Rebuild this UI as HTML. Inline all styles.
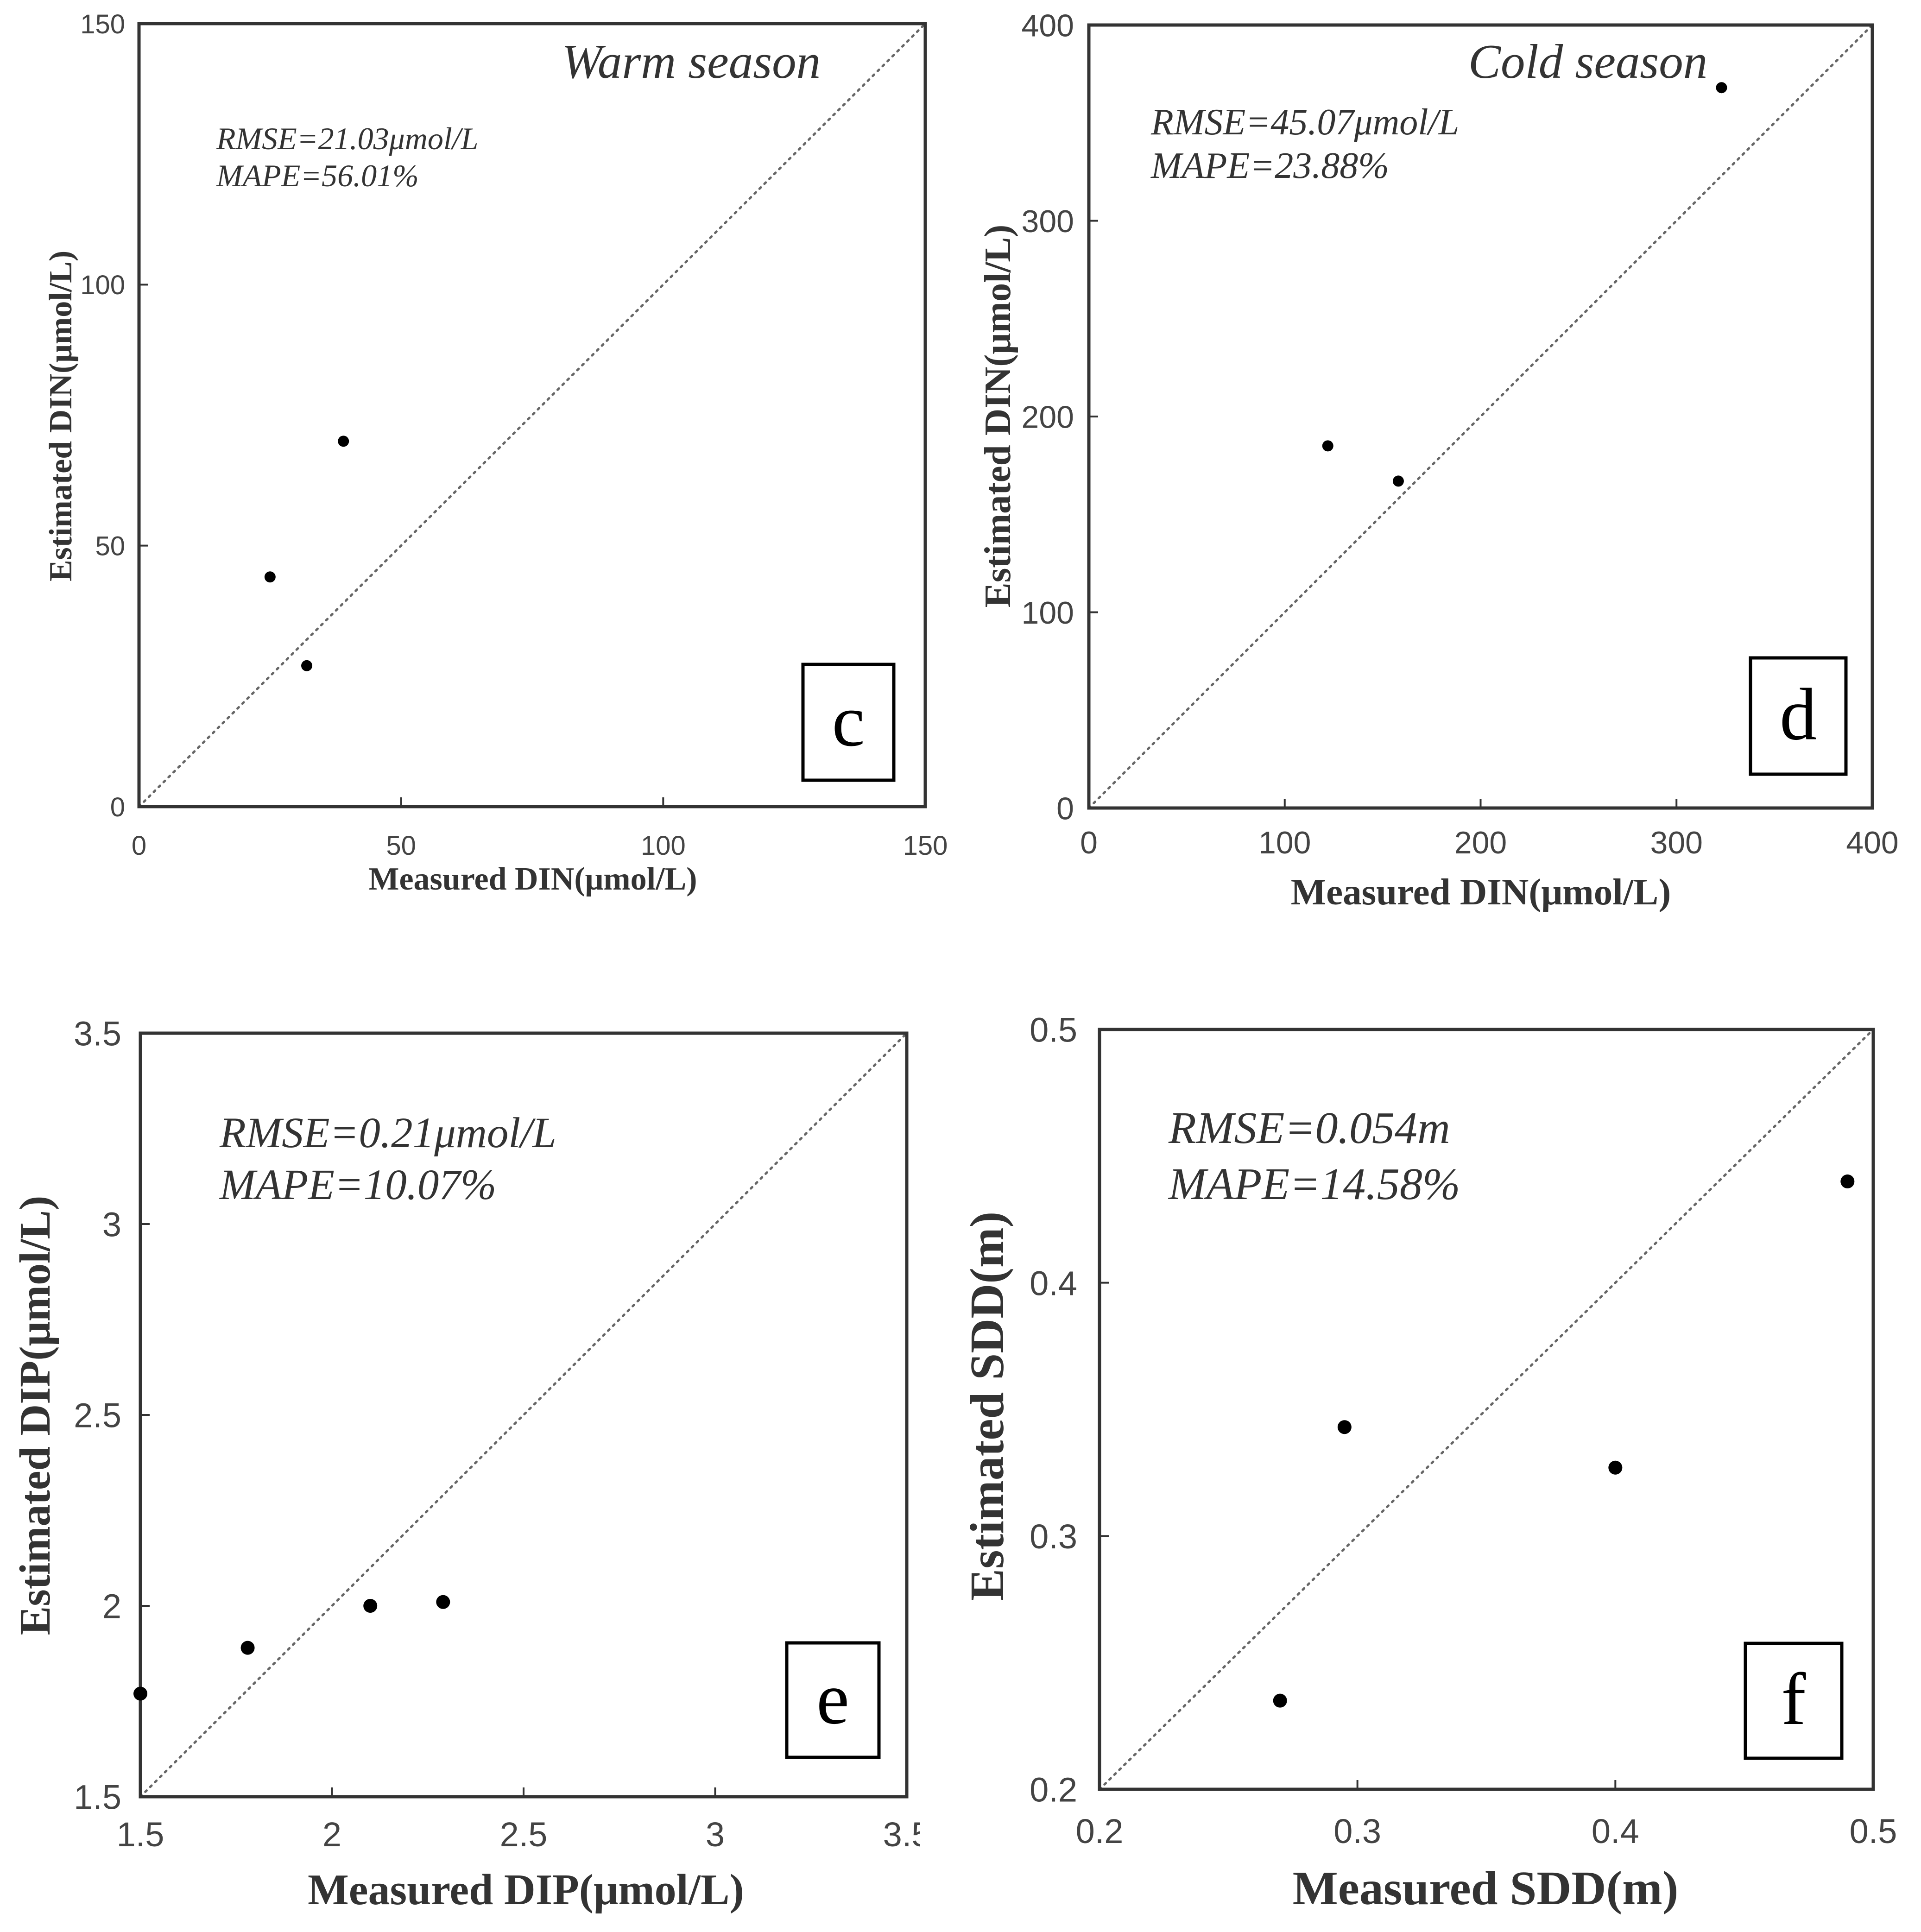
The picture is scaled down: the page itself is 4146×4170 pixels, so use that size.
<!DOCTYPE html>
<html><head><meta charset="utf-8"><style>
html,body{margin:0;padding:0;background:#fff;}
svg{display:block;}
.tick{font-family:"Liberation Sans",sans-serif;fill:#444;}
.ttl{font-family:"Liberation Serif",serif;font-weight:bold;fill:#333;}
.it{font-family:"Liberation Serif",serif;font-style:italic;fill:#333;}
.lab{font-family:"Liberation Serif",serif;fill:#000;}
</style></head><body>
<svg id="fig" xmlns="http://www.w3.org/2000/svg" width="4146" height="4170" viewBox="0 0 4146 4170">
<defs><clipPath id="clipE"><rect x="0" y="2085" width="1985" height="2085"/></clipPath></defs>
</svg>
<script>
// Panel c data
const cX = [25, 32, 39];
const cY = [44, 27, 70];
const cTicks = [0, 50, 100, 150];
const cTickLabels = ["0", "50", "100", "150"];
// Panel d data
const dX = [122, 158, 323];
const dY = [185, 167, 368];
const dTicks = [0, 100, 200, 300, 400];
const dTickLabels = ["0", "100", "200", "300", "400"];
// Panel e data
const eX = [1.5, 1.78, 2.1, 2.29];
const eY = [1.77, 1.89, 2.0, 2.01];
const eTicks = [1.5, 2, 2.5, 3, 3.5];
const eTickLabels = ["1.5", "2", "2.5", "3", "3.5"];
// Panel f data
const fX = [0.27, 0.295, 0.4, 0.49];
const fY = [0.235, 0.343, 0.327, 0.44];
const fTicks = [0.2, 0.3, 0.4, 0.5];
const fTickLabels = ["0.2", "0.3", "0.4", "0.5"];

const NS = "http://www.w3.org/2000/svg";
const svg = document.getElementById('fig');
function mk(tag, attrs, parent, text){
  const e = document.createElementNS(NS, tag);
  for (const k in attrs) e.setAttribute(k, attrs[k]);
  if (text !== undefined) e.textContent = text;
  (parent || svg).appendChild(e);
  return e;
}
function panel(p){
  const g = mk('g', {});
  
  
  if (p.clip) g.setAttribute('clip-path', p.clip);
  const min = p.ticks[0], max = p.ticks[p.ticks.length-1];
  const sx = v => p.L + (v - min) / (max - min) * (p.R - p.L);
  const sy = v => p.B - (v - min) / (max - min) * (p.B - p.T);
  const diag = mk('line', {x1:sx(min), y1:sy(min), x2:sx(max), y2:sy(max), stroke:'#666', 'stroke-width':5, 'stroke-dasharray':'4 11', 'stroke-linecap':'round'}, g);
  
  
  p.ticks.forEach((t, i) => {
    const tx = mk('line', {x1:sx(t), y1:p.B, x2:sx(t), y2:p.B-20, stroke:'#333', 'stroke-width':4}, g);
    
    
    const ty = mk('line', {x1:p.L, y1:sy(t), x2:p.L+20, y2:sy(t), stroke:'#333', 'stroke-width':4}, g);
    
    
    const xl = mk('text', {x:sx(t), y:p.xtb, 'text-anchor':'middle', class:'tick', 'font-size':p.tf}, g, p.labels[i]);
    
    
    const yl = mk('text', {x:p.ytr, y:sy(t) + p.tf*0.36, 'text-anchor':'end', class:'tick', 'font-size':p.tf}, g, p.labels[i]);
    
    
  });
  const fr = mk('rect', {x:p.L, y:p.T, width:p.R-p.L, height:p.B-p.T, fill:'none', stroke:'#333', 'stroke-width':7}, g);
  
  
  p.xs.forEach((v, i) => {
    const c = mk('circle', {cx:sx(v), cy:sy(p.ys[i]), r:p.r, fill:'#000'}, g);
    
    
  });
  const s1 = mk('text', {x:p.sx, y:p.s1, class:'it', 'font-size':p.sf}, g, p.rmse);
  
  
  const s2 = mk('text', {x:p.sx, y:p.s2, class:'it', 'font-size':p.sf}, g, p.mape);
  
  
  if (p.season) {
    const se = mk('text', {x:p.sex, y:p.sey, class:'it', 'font-size':105, fill:'#111'}, g, p.season);
    
    
  }
  const bx = mk('rect', {x:p.box[0], y:p.box[1], width:p.box[2]-p.box[0], height:p.box[3]-p.box[1], fill:'#fff', stroke:'#000', 'stroke-width':7}, g);
  
  
  const lt = mk('text', {x:(p.box[0]+p.box[2])/2, y:(p.box[1]+p.box[3])/2 + 50, 'text-anchor':'middle', class:'lab', 'font-size':160}, g, p.id);
  
  
  const xt = mk('text', {x:p.xtc, y:p.xtbl, 'text-anchor':'middle', class:'ttl', 'font-size':p.af}, g, p.xtitle);
  
  
  const yt = mk('text', {x:0, y:0, 'text-anchor':'middle', class:'ttl', 'font-size':p.af, transform:'translate(' + p.ytx + ',' + p.ytc + ') rotate(-90)'}, g, p.ytitle);
  
  
}
panel({id:'c', L:300, R:1997, T:51, B:1741, ticks:cTicks, labels:cTickLabels, xs:cX, ys:cY, r:12,
  tf:58, xtb:1845, ytr:270, sx:467, s1:322, s2:402, sf:68, rmse:'RMSE=21.03μmol/L', mape:'MAPE=56.01%',
  season:'Warm season', sex:1212, sey:168, box:[1733,1434,1929,1684],
  xtc:1150, xtbl:1920, af:70, xtitle:'Measured DIN(μmol/L)', ytx:154, ytc:898, ytitle:'Estimated DIN(μmol/L)'});
panel({id:'d', L:2350, R:4041, T:54, B:1744, ticks:dTicks, labels:dTickLabels, xs:dX, ys:dY, r:12,
  tf:68, xtb:1842, ytr:2318, sx:2484, s1:290, s2:384, sf:80, rmse:'RMSE=45.07μmol/L', mape:'MAPE=23.88%',
  season:'Cold season', sex:3169, sey:168, box:[3778,1420,3984,1671],
  xtc:3196, xtbl:1952, af:81, xtitle:'Measured DIN(μmol/L)', ytx:2180, ytc:898, ytitle:'Estimated DIN(μmol/L)'});
panel({id:'e', L:303, R:1957, T:2230, B:3878, ticks:eTicks, labels:eTickLabels, xs:eX, ys:eY, r:15,
  tf:74, xtb:3985, ytr:262, sx:474, s1:2476, s2:2588, sf:93, rmse:'RMSE=0.21μmol/L', mape:'MAPE=10.07%',
  box:[1698,3546,1897,3793], clip:'url(#clipE)',
  xtc:1135, xtbl:4110, af:94, xtitle:'Measured DIP(μmol/L)', ytx:107, ytc:3055, ytitle:'Estimated DIP(μmol/L)'});
panel({id:'f', L:2373, R:4043, T:2222, B:3862, ticks:fTicks, labels:fTickLabels, xs:fX, ys:fY, r:15,
  tf:74, xtb:3978, ytr:2325, sx:2522, s1:2467, s2:2588, sf:98, rmse:'RMSE=0.054m', mape:'MAPE=14.58%',
  box:[3767,3547,3975,3795],
  xtc:3206, xtbl:4110, af:104, xtitle:'Measured SDD(m)', ytx:2165, ytc:3035, ytitle:'Estimated SDD(m)'});
</script>
</body></html>
